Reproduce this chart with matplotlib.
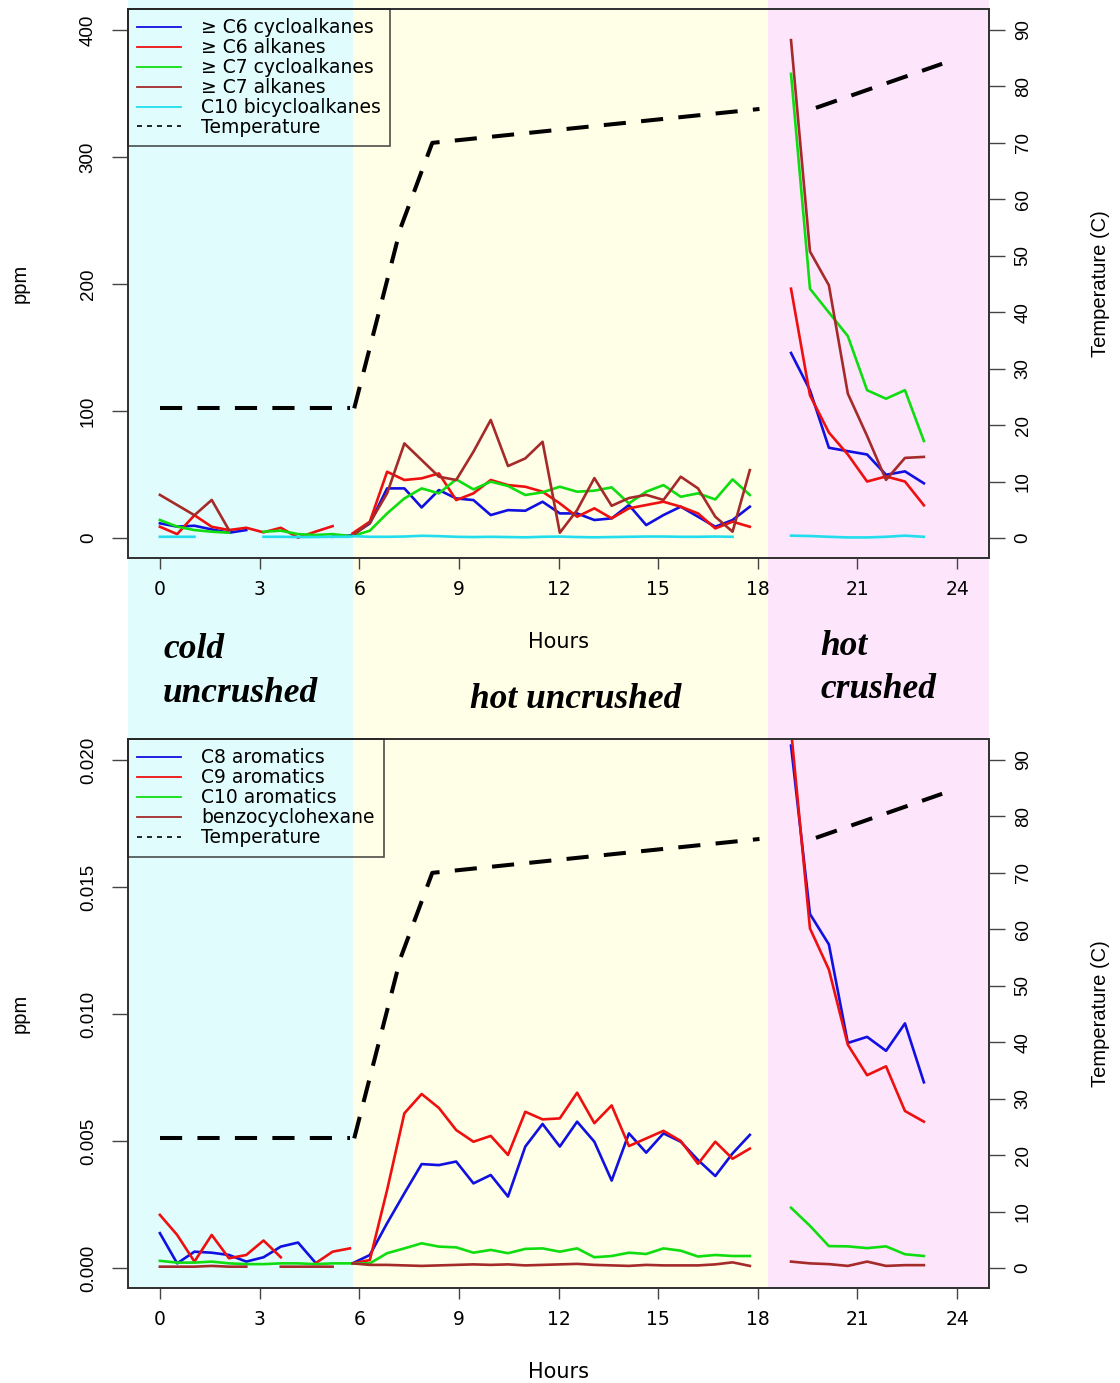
import numpy as np
import matplotlib
matplotlib.use('Agg')
import matplotlib.pyplot as plt
import matplotlib.transforms as mtransforms
from matplotlib.lines import Line2D
from matplotlib.patches import Rectangle

nan = np.nan

# sampling times (hours) of the three phases
t_cold = [0, 0.52, 1.04, 1.56, 2.08, 2.6, 3.12, 3.64, 4.16, 4.68, 5.2, 5.72]
t_hot = [5.8, 6.32, 6.84, 7.36, 7.88, 8.4, 8.92, 9.44, 9.96, 10.48, 11.0, 11.52,
         12.04, 12.56, 13.08, 13.6, 14.12, 14.64, 15.16, 15.68, 16.2, 16.72, 17.24, 17.76]
t_crush = [19.0, 19.57, 20.14, 20.71, 21.29, 21.86, 22.43, 23.0]

# temperature (C)
temp_t_cold = [0, 5.72]
temp_cold = [23, 23]
temp_t_hot = [5.85, 7.25, 8.2, 18.05]
temp_hot = [23, 55, 70, 76]
temp_t_crush = [19.75, 23.55]
temp_crush = [76.2, 84.0]

# upper panel (ppm)
c6_cyclo_cold = [11.6, 9.0, 9.7, 6.8, 4.2, 6.3, nan, nan, nan, nan, 1.0, 2.0]
c6_cyclo_hot = [2.4, 11.5, 39.1, 39.1, 24.1, 37.8, 31.2, 29.9, 18.1, 22.0, 21.5, 28.6,
                19.4, 19.4, 14.2, 15.5, 26.0, 10.2, 18.1, 24.7, 16.8, 8.9, 14.2, 24.7]
c6_cyclo_crush = [145.7, 116.4, 71.1, 68.4, 65.8, 49.8, 52.5, 43.1]

c6_alk_cold = [8.9, 3.1, 18.0, 8.9, 6.3, 8.1, 4.5, 8.1, 0.3, 5.0, 9.4, nan]
c6_alk_hot = [3.7, 12.9, 52.2, 45.7, 47.0, 50.9, 29.9, 35.2, 45.7, 41.7, 40.4, 36.5,
              27.3, 16.8, 23.4, 15.5, 23.4, 26.0, 28.6, 24.7, 19.4, 7.6, 12.9, 8.9]
c6_alk_crush = [196.3, 112.4, 83.1, 65.8, 44.5, 48.5, 44.5, 25.8]

c7_cyclo_cold = [14.2, 9.0, 6.3, 5.0, 4.2, nan, 5.0, 5.8, 3.1, 2.4, 3.1, 1.6]
c7_cyclo_hot = [1.6, 5.8, 19.4, 31.2, 39.1, 35.2, 46.2, 38.3, 44.4, 41.0, 33.9, 36.0,
                40.4, 36.5, 37.3, 39.9, 27.3, 36.5, 41.7, 32.5, 35.2, 30.4, 46.2, 33.9]
c7_cyclo_crush = [365.4, 196.3, 177.6, 159.0, 116.4, 109.7, 116.4, 76.4]

c7_alk_cold = [34.0, 26.0, 18.0, 30.0, 6.3, nan, nan, nan, nan, nan, nan, nan]
c7_alk_hot = [2.0, 12.0, 35.2, 74.5, 61.4, 48.3, 45.7, 68.0, 93.0, 56.7, 62.7, 75.8,
              4.2, 22.0, 47.2, 25.4, 31.5, 34.0, 30.0, 48.3, 39.1, 16.8, 5.0, 53.5]
c7_alk_crush = [392.0, 225.6, 199.0, 113.7, 80.4, 45.8, 63.1, 63.9]

c10_bicyclo_cold = [1.0, 1.0, 1.0, nan, nan, nan, 1.0, 1.0, 0.8, 0.8, 1.0, 1.0]
c10_bicyclo_hot = [1.5, 1.0, 1.0, 1.2, 1.8, 1.5, 1.0, 0.8, 1.0, 0.8, 0.6, 1.0,
                   1.2, 0.8, 0.6, 0.8, 1.0, 1.2, 1.2, 1.0, 1.0, 1.2, 1.0, nan]
c10_bicyclo_crush = [1.9, 1.6, 1.0, 0.5, 0.5, 1.0, 1.9, 1.0]

# lower panel (ppm)
c8_arom_cold = [0.00137, 0.00018, 0.00064, 0.00060, 0.00051, 0.00025, 0.00042, 0.00084,
                0.00100, 0.00021, nan, nan]
c8_arom_hot = [0.00018, 0.00051, 0.00176, 0.00294, 0.00409, 0.00405, 0.00419, 0.00333,
               0.00366, 0.00281, 0.00478, 0.00567, 0.00478, 0.00576, 0.00497, 0.00344,
               0.00530, 0.00454, 0.00530, 0.00497, 0.00425, 0.00362, 0.00451, 0.00524]
c8_arom_crush = [0.02057, 0.01394, 0.01274, 0.00886, 0.00910, 0.00855, 0.00963, 0.00731]

c9_arom_cold = [0.00209, 0.00130, 0.00025, 0.00130, 0.00038, 0.00051, 0.00108, 0.00042,
                nan, 0.00018, 0.00064, 0.00077]
c9_arom_hot = [0.00018, 0.00031, 0.00307, 0.00609, 0.00685, 0.00630, 0.00543, 0.00497,
               0.00520, 0.00445, 0.00615, 0.00585, 0.00589, 0.00690, 0.00570, 0.00640,
               0.00480, 0.00510, 0.00540, 0.00500, 0.00410, 0.00497, 0.00430, 0.00470]
c9_arom_crush = [0.0212, 0.01337, 0.01175, 0.00879, 0.00759, 0.00794, 0.00618, 0.00576]

c10_arom_cold = [0.00028, 0.00021, 0.00021, 0.00025, 0.00018, 0.00015, 0.00015, 0.00018,
                 0.00018, 0.00015, 0.00018, 0.00018]
c10_arom_hot = [0.00018, 0.00018, 0.00058, 0.00077, 0.00097, 0.00084, 0.00081, 0.00060,
                0.00071, 0.00058, 0.00075, 0.00077, 0.00064, 0.00077, 0.00042, 0.00047,
                0.00060, 0.00055, 0.00077, 0.00068, 0.00045, 0.00051, 0.00047, 0.00047]
c10_arom_crush = [0.00237, 0.00166, 0.00086, 0.00085, 0.00078, 0.00085, 0.00054, 0.00047]

benzo_cold = [0.00005, 0.00005, 0.00005, 0.00008, 0.00005, 0.00005, nan, 0.00005,
              0.00005, 0.00005, 0.00005, nan]
benzo_hot = [0.00018, 0.00012, 0.00012, 0.00010, 0.00008, 0.00010, 0.00012, 0.00014,
             0.00012, 0.00014, 0.00010, 0.00012, 0.00014, 0.00016, 0.00012, 0.00010,
             0.00008, 0.00012, 0.00010, 0.00010, 0.00010, 0.00014, 0.00022, 0.00008]
benzo_crush = [0.00025, 0.00018, 0.00015, 0.00008, 0.00025, 0.00008, 0.00011, 0.00011]

top_labels = ['\u2265 C6 cycloalkanes', '\u2265 C6 alkanes', '\u2265 C7 cycloalkanes',
              '\u2265 C7 alkanes', 'C10 bicycloalkanes']
bot_labels = ['C8 aromatics', 'C9 aromatics', 'C10 aromatics', 'benzocyclohexane']

top_colors = ['#1010E0', '#EE1010', '#10DD10', '#A52A2A', '#22DDEE']
bot_colors = ['#1010E0', '#EE1010', '#10DD10', '#A52A2A']

phase_bounds = [(-0.96, 5.82), (5.82, 18.3), (18.3, 24.96)]
phase_colors = ['#E0FCFC', '#FFFEE6', '#FDE5FB']

x_ticks = [0, 3, 6, 9, 12, 15, 18, 21, 24]
temp_ticks = [0, 10, 20, 30, 40, 50, 60, 70, 80, 90]

W, H = 1120, 1383
AX_W, AX_H = 861, 549


def draw_panel(ax, series, colors, labels, ylim, yticks, yticklabels):
    ax.set_facecolor('none')
    times = [t_cold, t_hot, t_crush]
    for vals, col in zip(series, colors):
        for t, v in zip(times, vals):
            ax.plot(t, v, color=col, lw=1.9, solid_joinstyle='round')
    ax.set_xlim(-0.96, 24.96)
    ax.set_ylim(ylim)
    ax.set_xticks(x_ticks, [str(x) for x in x_ticks], fontsize=13.5)
    ax.set_yticks(yticks, yticklabels, rotation=90, va='center', fontsize=13.5,
                  family='Liberation Sans')
    ax.tick_params(axis='x', length=8, width=1, color='#444444', pad=8)
    ax.tick_params(axis='y', length=11.5, width=1, color='#444444', pad=11)
    for s in ax.spines.values():
        s.set_linewidth(1.3)
        s.set_color('#333333')
    ax.set_xlabel('Hours', fontsize=15)
    ax.xaxis.set_label_coords(0.5, -84 / AX_H)
    ax.xaxis.label.set_va('center')
    ax.set_ylabel('ppm', fontsize=14.5, family='Liberation Sans')
    ax.yaxis.set_label_coords(-108 / AX_W, 0.5)
    ax.yaxis.label.set_va('center')

    ax2 = ax.twinx()
    for t, v in zip([temp_t_cold, temp_t_hot, temp_t_crush], [temp_cold, temp_hot, temp_crush]):
        ax2.plot(t, v, color='black', lw=2.9, dashes=(5.5, 3.8))
    ax2.set_ylim(-3.5, 93.7)
    ax2.set_yticks(temp_ticks, [str(v) for v in temp_ticks], rotation=90, va='center',
                   fontsize=13.5, family='Liberation Sans')
    ax2.tick_params(axis='y', length=11.5, width=1, color='#444444', pad=7)
    for s in ax2.spines.values():
        s.set_linewidth(1.3)
        s.set_color('#333333')
    ax2.set_ylabel('Temperature (C)', fontsize=14.5, family='Liberation Sans')
    ax2.yaxis.set_label_coords(972 / AX_W, 0.5)
    ax2.yaxis.label.set_va('center')

    handles = [Line2D([], [], color=c, lw=1.3) for c in colors]
    handles.append(Line2D([], [], color='black', lw=1.2, ls=(0, (3, 3))))
    leg = ax2.legend(handles, labels + ['Temperature'], loc='upper left',
                     bbox_to_anchor=(0, 1), borderaxespad=0, fancybox=False,
                     fontsize=13.5, handlelength=2.3, handletextpad=1.1,
                     labelspacing=0.05, borderpad=0.5)
    leg.get_frame().set_facecolor('none')
    leg.get_frame().set_edgecolor('#222222')
    leg.get_frame().set_linewidth(1.2)
    return ax2


fig = plt.figure(figsize=(W / 100, H / 100), dpi=100)
ax_top = fig.add_axes([128 / W, 1 - 558 / H, AX_W / W, AX_H / H])
ax_bot = fig.add_axes([128 / W, 1 - 1288 / H, AX_W / W, AX_H / H])

draw_panel(ax_top,
           [[c6_cyclo_cold, c6_cyclo_hot, c6_cyclo_crush],
            [c6_alk_cold, c6_alk_hot, c6_alk_crush],
            [c7_cyclo_cold, c7_cyclo_hot, c7_cyclo_crush],
            [c7_alk_cold, c7_alk_hot, c7_alk_crush],
            [c10_bicyclo_cold, c10_bicyclo_hot, c10_bicyclo_crush]],
           top_colors, top_labels, (-15.7, 416.5),
           [0, 100, 200, 300, 400], ['0', '100', '200', '300', '400'])

draw_panel(ax_bot,
           [[c8_arom_cold, c8_arom_hot, c8_arom_crush],
            [c9_arom_cold, c9_arom_hot, c9_arom_crush],
            [c10_arom_cold, c10_arom_hot, c10_arom_crush],
            [benzo_cold, benzo_hot, benzo_crush]],
           bot_colors, bot_labels, (-0.00079, 0.02083),
           [0, 0.005, 0.01, 0.015, 0.02], ['0.000', '0.005', '0.010', '0.015', '0.020'])

# coloured phase bands behind both panels
trans = mtransforms.blended_transform_factory(ax_top.transData, fig.transFigure)
y0 = ax_bot.get_position().y0
for (x0, x1), col in zip(phase_bounds, phase_colors):
    fig.add_artist(Rectangle((x0, y0), x1 - x0, 1 - y0, transform=trans,
                             facecolor=col, edgecolor='none', zorder=-1))

phase_font = dict(fontsize=25.5, family='Liberation Serif', weight='bold',
                  style='italic', va='center', ha='left')
fig.text(163 / W, 1 - 650 / H, 'cold', **phase_font)
fig.text(163 / W, 1 - 693 / H, 'uncrushed', **phase_font)
fig.text(470 / W, 1 - 700 / H, 'hot uncrushed', **phase_font)
fig.text(820 / W, 1 - 646 / H, 'hot', **phase_font)
fig.text(820 / W, 1 - 690 / H, 'crushed', **phase_font)

fig.savefig('out.png', dpi=100)
